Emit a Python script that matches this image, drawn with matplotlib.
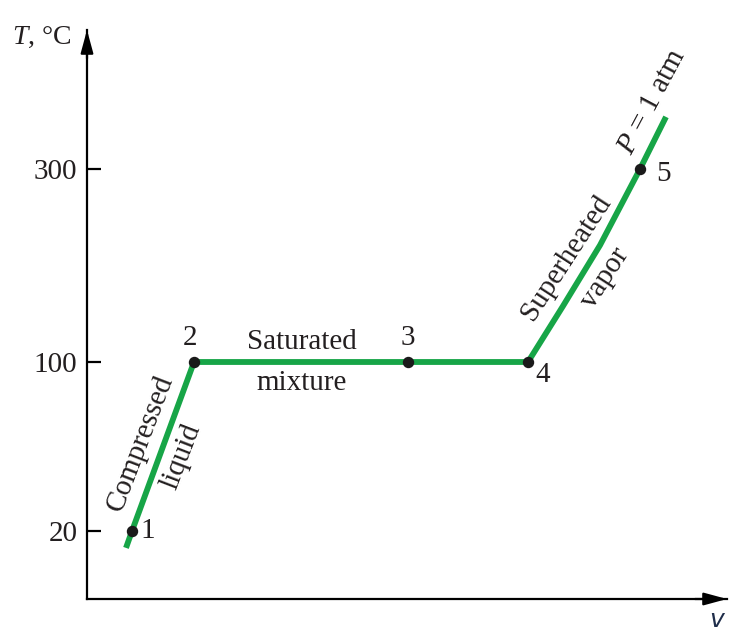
import numpy as np
import matplotlib
matplotlib.use("Agg")
from matplotlib import pyplot as plt

plt.rcParams['font.family'] = ['Liberation Serif', 'DejaVu Serif']
plt.rcParams['mathtext.fontset'] = 'custom'
plt.rcParams['mathtext.rm'] = 'Liberation Serif'
plt.rcParams['mathtext.it'] = 'Liberation Serif:italic'

# schematic T-v diagram of water at 1 atm
v_path = [39, 45, 107, 321, 441, 476, 513, 553, 579]
T_path = [12, 20, 100, 100, 100, 158, 221, 300, 354]

state_v = [45, 107, 321, 441, 553]
state_T = [20, 100, 100, 100, 300]
state_names = ["1", "2", "3", "4", "5"]

T_ticks = [20, 100, 300]
T_ticklabels = ["20", "100", "300"]

# the axis is not linear: map temperatures onto height by pieces
T_anchor = np.array([-100, 20, 100, 300, 600])
h_anchor = np.array([-185.5, 68, 237, 430, 719.5])

def fwd(t):
    return np.interp(t, T_anchor, h_anchor)

def inv(h):
    return np.interp(h, h_anchor, T_anchor)

ink = '#231f20'
green = '#17a547'

fig = plt.figure(figsize=(7.5, 6.34), dpi=100)
ax = fig.add_axes([87/750, 35/634, 640/750, 569/634])
ax.set_yscale('function', functions=(fwd, inv))
ax.set_xlim(0, 640)
ax.set_ylim(inv(0), inv(569))

ax.plot(v_path, T_path, color=green, lw=4.2, solid_capstyle='butt', solid_joinstyle='round', zorder=2)
ax.plot(state_v, state_T, 'o', color='#1a1a1a', ms=7.2, zorder=3)

ax.spines['top'].set_visible(False)
ax.spines['right'].set_visible(False)
for s in ['left', 'bottom']:
    ax.spines[s].set_linewidth(1.6)
ax.set_xticks([])
ax.set_yticks(T_ticks)
ax.set_yticklabels(T_ticklabels, fontsize=21, color=ink)
ax.tick_params(axis='y', direction='in', length=10, width=1.6, pad=7)

arrow = dict(arrowstyle='-|>,head_length=1.4,head_width=0.38', color='black',
             lw=1.6, shrinkA=0, shrinkB=0)
ax.annotate('', xy=(0, 1), xytext=(0, 0.95), xycoords='axes fraction', arrowprops=arrow)
ax.annotate('', xy=(1, 0), xytext=(0.95, 0), xycoords='axes fraction', arrowprops=arrow)

def px(x, y):
    return x / 750, 1 - y / 634

fs = 21
fig.text(*px(12, 37), '$\\it{T}$, °C', fontsize=20, color=ink, va='center', ha='left')
fig.text(*px(717, 620), 'v', fontsize=18, color='#1f2d4a', style='italic',
         family='DejaVu Sans', va='center', ha='center')

# state numbers
offsets = [(16, 0), (-4, 24), (0, 24), (15, -13), (23, -5)]
for v, t, name, (dx, dy) in zip(state_v, state_T, state_names, offsets):
    ax.annotate(name, (v, t), xytext=(dx * 0.72, dy * 0.72), textcoords='offset points',
                fontsize=fs, color=ink, ha='center', va='center')

kw = dict(fontsize=fs, color=ink, ha='center', va='center', rotation_mode='anchor')
fig.text(*px(140, 443), 'Compressed', rotation=69, **kw)
fig.text(*px(181, 457), 'liquid', rotation=69, **kw)
fig.text(*px(302, 342), 'Saturated', **kw)
fig.text(*px(302, 383), 'mixture', **kw)
fig.text(*px(566, 258), 'Superheated', rotation=57, **kw)
fig.text(*px(605, 278), 'vapor', rotation=57, **kw)
fig.text(*px(652, 102), '$\\it{P}$ = 1 atm', rotation=62, **kw)

fig.savefig('out.png', dpi=100)
